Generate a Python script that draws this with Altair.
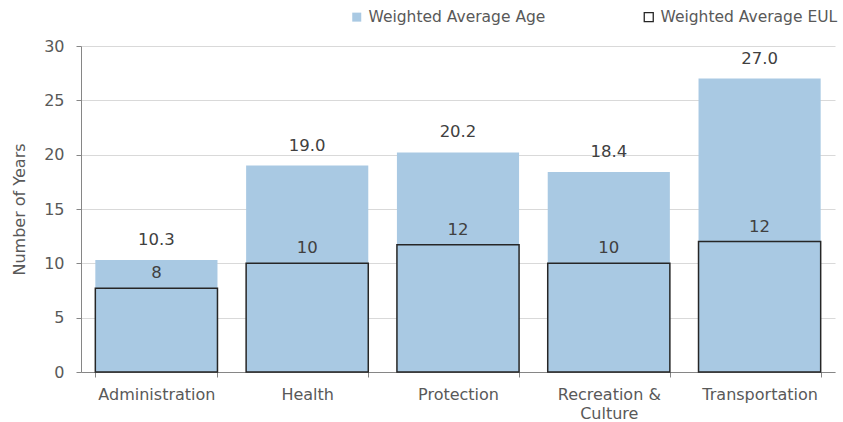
import altair as alt
import pandas as pd

categories = ["Administration", "Health", "Protection", "Recreation & Culture", "Transportation"]
avg_age = [10.3, 19.0, 20.2, 18.4, 27.0]
avg_eul = [7.7, 10.0, 11.7, 10.0, 12.0]
series_names = ["Weighted Average Age", "Weighted Average EUL"]

df = pd.DataFrame({
    "category": categories,
    series_names[0]: avg_age,
    series_names[1]: avg_eul,
})

FONT = "DejaVu Sans"
BLUE = "#a9c9e3"
GREY = "#595959"
AXIS = "#868686"

x_enc = alt.X(
    "category:N", sort=categories, title=None,
    scale=alt.Scale(paddingInner=0.19, paddingOuter=0.095),
    axis=alt.Axis(
        labelAngle=0, labelFontSize=16, labelColor=GREY, labelFont=FONT,
        tickBand="extent", tickSize=5, tickColor=AXIS, domainColor=AXIS, grid=False,
        labelPadding=9, labelLineHeight=19, labelLimit=300,
        labelExpr="datum.label == 'Recreation & Culture' ? ['Recreation &', 'Culture'] : datum.label",
    ),
)

y_scale = alt.Scale(domain=[0, 30], nice=False)
y_axis = alt.Axis(
    values=[0, 5, 10, 15, 20, 25, 30], labelFontSize=16, labelColor=GREY, labelFont=FONT,
    tickSize=5, tickColor=AXIS, domainColor=AXIS, labelPadding=12,
    title="Number of Years", titleFontSize=16, titleFontWeight="normal",
    titleColor=GREY, titleFont=FONT, titlePadding=16,
    gridColor="#d9d9d9", gridWidth=1,
)

legend = alt.Legend(
    title=None, orient="none", legendX=268, legendY=-37, direction="horizontal",
    labelFontSize=15.5, labelColor=GREY, labelFont=FONT, symbolType="square", labelLimit=400,
    symbolSize=81, symbolStrokeWidth=1.3, labelOffset=4, columnPadding=95, padding=0,
)

base = alt.Chart(df)

bars = base.transform_fold(series_names, as_=["series", "value"]).mark_bar(strokeWidth=1.5).encode(
    x=x_enc,
    y=alt.Y("value:Q", stack=None, scale=y_scale, axis=y_axis),
    fill=alt.Fill("series:N", scale=alt.Scale(domain=series_names, range=[BLUE, "transparent"]), legend=legend),
    stroke=alt.Stroke("series:N", scale=alt.Scale(domain=series_names, range=["transparent", "#262626"]), legend=legend),
)

age_labels = base.mark_text(fontSize=16.5, color="#404040", font=FONT, baseline="middle", dy=-20).encode(
    x=alt.X("category:N", sort=categories),
    y=alt.Y(f"{series_names[0]}:Q", scale=y_scale),
    text=alt.Text(f"{series_names[0]}:Q", format=".1f"),
)

eul_labels = base.mark_text(fontSize=16.5, color="#404040", font=FONT, baseline="middle", dy=-15).encode(
    x=alt.X("category:N", sort=categories),
    y=alt.Y(f"{series_names[1]}:Q", scale=y_scale),
    text=alt.Text(f"{series_names[1]}:Q", format=".0f"),
)

chart = alt.layer(bars, age_labels, eul_labels).properties(
    width=754, height=326,
    autosize=alt.AutoSizeParams(type="none"),
    padding={"left": 81, "top": 46, "right": 8, "bottom": 50},
    background="white",
).configure_view(stroke=None)

chart.save("out.html", embed_options={"renderer": "svg", "actions": False})
